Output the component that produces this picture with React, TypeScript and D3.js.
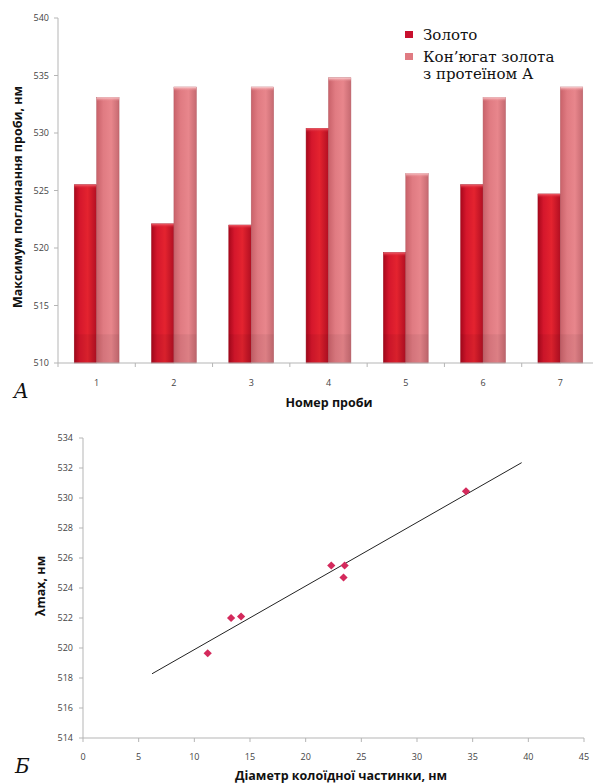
import React from "react";
import * as d3 from "d3";

// ---- Data: chart A ----
const samples = ["1", "2", "3", "4", "5", "6", "7"];
const goldValues = [525.5, 522.1, 522.0, 530.4, 519.6, 525.5, 524.7];
const conjugateValues = [533.1, 534.0, 534.0, 534.8, 526.5, 533.1, 534.0];
const seriesNames = ["Золото", "Кон’югат золота", "з протеїном А"];
const yTicksA = [510, 515, 520, 525, 530, 535, 540];

// ---- Data: chart Б ----
const diameters = [11.2, 13.3, 14.2, 22.3, 23.5, 23.4, 34.4];
const lambdaMax = [519.65, 522.0, 522.1, 525.5, 525.5, 524.7, 530.45];
const trendRange = [6.2, 39.4];
const yTicksB = [514, 516, 518, 520, 522, 524, 526, 528, 530, 532, 534];
const xTicksB = [0, 5, 10, 15, 20, 25, 30, 35, 40, 45];

const sans = "'Open Sans', 'Noto Sans', sans-serif";
const serif = "'DejaVu Serif', serif";

export default function App() {
  // Chart A scales
  const x0 = d3
    .scaleBand<string>()
    .domain(samples)
    .range([58, 599])
    .paddingInner(0.42)
    .paddingOuter(0.21);
  const x1 = d3.scaleBand<string>().domain(["g", "c"]).range([0, x0.bandwidth()]);
  const yA = d3.scaleLinear().domain([510, 540]).range([363, 18]);
  const step = x0.step();
  const boundaries = d3.range(samples.length + 1).map((i) => 58 + i * step);

  // Chart Б scales
  const xB = d3.scaleLinear().domain([0, 45]).range([83, 584]);
  const yB = d3.scaleLinear().domain([514, 534]).range([738, 438]);
  const pts = diameters.map((d, i) => [d, lambdaMax[i]] as [number, number]);
  const mx = d3.mean(diameters)!;
  const my = d3.mean(lambdaMax)!;
  const slope =
    d3.sum(pts, (p) => (p[0] - mx) * (p[1] - my)) / d3.sum(pts, (p) => (p[0] - mx) ** 2);
  const icpt = my - slope * mx;
  const trendLine = d3
    .line<number>()
    .x((d) => xB(d))
    .y((d) => yB(icpt + slope * d))(trendRange);
  const marker = d3.symbol().type(d3.symbolSquare).size(34)();

  return (
    <svg
      width={593}
      height={784}
      style={{ position: "absolute", left: 0, top: 0, background: "#fff" }}
    >
      <defs>
        <linearGradient id="gGold" x1="0" x2="1" y1="0" y2="0">
          <stop offset="0" stopColor="#a8081c" />
          <stop offset="0.25" stopColor="#d5172c" />
          <stop offset="0.6" stopColor="#e4232f" />
          <stop offset="1" stopColor="#b20f22" />
        </linearGradient>
        <linearGradient id="gConj" x1="0" x2="1" y1="0" y2="0">
          <stop offset="0" stopColor="#c9626a" />
          <stop offset="0.3" stopColor="#e07b82" />
          <stop offset="0.65" stopColor="#e8868c" />
          <stop offset="1" stopColor="#c66a71" />
        </linearGradient>
        <linearGradient id="capGold" x1="0" x2="0" y1="0" y2="1">
          <stop offset="0" stopColor="#f0606a" />
          <stop offset="1" stopColor="#d5172c" stopOpacity="0" />
        </linearGradient>
        <linearGradient id="capConj" x1="0" x2="0" y1="0" y2="1">
          <stop offset="0" stopColor="#fbd0d2" />
          <stop offset="1" stopColor="#e8868c" stopOpacity="0" />
        </linearGradient>
      </defs>

      {/* ---------- Chart A ---------- */}
      <line x1={58} x2={58} y1={18} y2={363} stroke="#b5b5b5" />
      {yTicksA.map((t) => (
        <g key={t}>
          <line x1={54} x2={58} y1={yA(t)} y2={yA(t)} stroke="#b5b5b5" />
          <text
            x={49}
            y={yA(t)}
            dy="0.35em"
            textAnchor="end"
            fontFamily={sans}
            fontSize={9}
            fill="#444"
          >
            {t}
          </text>
        </g>
      ))}
      {samples.map((s, i) => (
        <g key={s}>
          {[
            { key: "g", v: goldValues[i], fill: "url(#gGold)", cap: "url(#capGold)", stroke: "#9a0a1c" },
            { key: "c", v: conjugateValues[i], fill: "url(#gConj)", cap: "url(#capConj)", stroke: "#b45a62" },
          ].map((b) => {
            const bx = x0(s)! + x1(b.key)!;
            const bw = x1.bandwidth();
            const by = yA(b.v);
            const bh = yA(510) - by;
            return (
              <g key={b.key}>
                <rect x={bx} y={by} width={bw} height={bh} fill={b.fill} stroke={b.stroke} strokeWidth={0.5} />
                <rect x={bx} y={by} width={bw} height={4} fill={b.cap} />
                <rect x={bx} y={yA(512.5)} width={bw} height={yA(510) - yA(512.5)} fill="#000" opacity={0.05} />
              </g>
            );
          })}
          <text
            x={x0(s)! + x0.bandwidth() / 2}
            y={383}
            dy="0.35em"
            textAnchor="middle"
            fontFamily={sans}
            fontSize={9}
            fill="#444"
          >
            {s}
          </text>
        </g>
      ))}
      <line x1={58} x2={593} y1={363} y2={363} stroke="#b5b5b5" />
      {boundaries.map((bx, i) => (
        <line key={i} x1={bx} x2={bx} y1={363} y2={367} stroke="#b5b5b5" />
      ))}
      <text
        transform="translate(22,197) rotate(-90)"
        textAnchor="middle"
        fontFamily={sans}
        fontWeight="bold"
        fontSize={12.5}
        fill="#111"
      >
        Максимум поглинання проби, нм
      </text>
      <text x={329} y={407} textAnchor="middle" fontFamily={sans} fontWeight="bold" fontSize={12.5} fill="#111">
        Номер проби
      </text>
      <text x={14} y={398} fontFamily={serif} fontStyle="italic" fontSize={20} fill="#111">
        A
      </text>
      {/* legend */}
      <rect x={405} y={31} width={8} height={7} fill="#c8102e" />
      <text x={423} y={40} fontFamily={serif} fontSize={15} fill="#111">
        {seriesNames[0]}
      </text>
      <rect x={405} y={53} width={8} height={7} fill="#e07b82" />
      <text x={423} y={62} fontFamily={serif} fontSize={15} fill="#111">
        {seriesNames[1]}
      </text>
      <text x={423} y={79} fontFamily={serif} fontSize={15} fill="#111">
        {seriesNames[2]}
      </text>

      {/* ---------- Chart Б ---------- */}
      <line x1={83} x2={83} y1={438} y2={738} stroke="#b5b5b5" />
      {yTicksB.map((t) => (
        <g key={t}>
          <line x1={79} x2={83} y1={yB(t)} y2={yB(t)} stroke="#b5b5b5" />
          <text
            x={73}
            y={yB(t)}
            dy="0.35em"
            textAnchor="end"
            fontFamily={sans}
            fontSize={9}
            fill="#444"
          >
            {t}
          </text>
        </g>
      ))}
      <line x1={83} x2={584} y1={738} y2={738} stroke="#b5b5b5" />
      {xTicksB.map((t) => (
        <g key={t}>
          <line x1={xB(t)} x2={xB(t)} y1={738} y2={742} stroke="#b5b5b5" />
          <text
            x={xB(t)}
            y={757}
            dy="0.35em"
            textAnchor="middle"
            fontFamily={sans}
            fontSize={9}
            fill="#444"
          >
            {t}
          </text>
        </g>
      ))}
      <path d={trendLine!} stroke="#222" strokeWidth={1} fill="none" />
      {pts.map((p, i) => (
        <path
          key={i}
          d={marker!}
          transform={`translate(${xB(p[0])},${yB(p[1])}) rotate(45)`}
          fill="#d42a5c"
        />
      ))}
      <text
        transform="translate(45,586) rotate(-90)"
        textAnchor="middle"
        fontFamily={sans}
        fontWeight="bold"
        fontSize={12.5}
        fill="#111"
      >
        λmax, нм
      </text>
      <text x={341} y={780} textAnchor="middle" fontFamily={sans} fontWeight="bold" fontSize={12.5} fill="#111">
        Діаметр колоїдної частинки, нм
      </text>
      <text x={15} y={773} fontFamily={serif} fontStyle="italic" fontSize={20} fill="#111">
        Б
      </text>
    </svg>
  );
}
